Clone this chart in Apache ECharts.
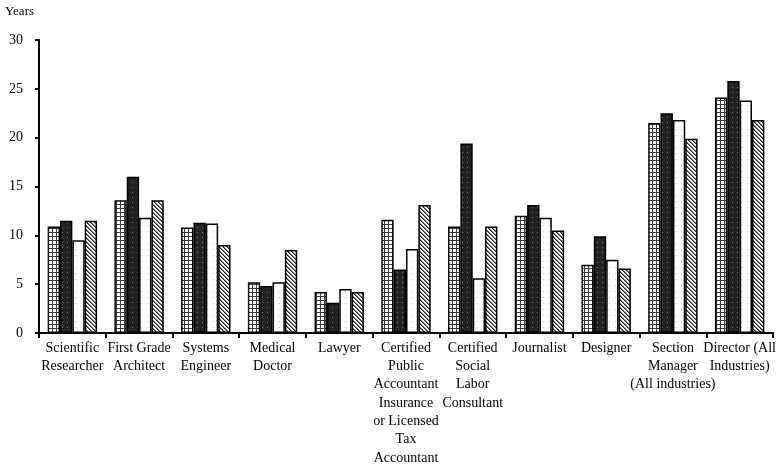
<!DOCTYPE html>
<html><head><meta charset="utf-8">
<script src="https://cdn.jsdelivr.net/npm/echarts@6/dist/echarts.min.js"></script>
<style>html,body{margin:0;padding:0;background:#fff}#c{width:778px;height:465px}</style>
</head><body><div id="c"></div>
<script>
const categories = [
  'Scientific\nResearcher',
  'First Grade\nArchitect',
  'Systems\nEngineer',
  'Medical\nDoctor',
  'Lawyer',
  'Certified\nPublic\nAccountant\nInsurance\nor Licensed\nTax\nAccountant',
  'Certified\nSocial\nLabor\nConsultant',
  'Journalist',
  'Designer',
  'Section\nManager\n(All industries)',
  'Director (All\nIndustries)'
];
const seriesA = [10.9, 13.6, 10.8, 5.2, 4.2, 11.6, 10.9, 12.0, 7.0, 21.5, 24.1];
const seriesB = [11.5, 16.0, 11.3, 4.8, 3.1, 6.5, 19.4, 13.1, 9.9, 22.5, 25.8];
const seriesC = [9.5, 11.8, 11.2, 5.2, 4.5, 8.6, 5.6, 11.8, 7.5, 21.8, 23.8];
const seriesD = [11.5, 13.6, 9.0, 8.5, 4.2, 13.1, 10.9, 10.5, 6.6, 19.9, 21.8];
const yTicks = [0, 5, 10, 15, 20, 25, 30];

function makePattern(size, draw) {
  const c = document.createElement('canvas');
  c.width = size; c.height = size;
  const ctx = c.getContext('2d');
  draw(ctx);
  return c;
}
const pGrid = makePattern(4, ctx => {
  ctx.fillStyle = '#fff'; ctx.fillRect(0, 0, 4, 4);
  ctx.fillStyle = '#3a3a3a'; ctx.fillRect(0, 0, 4, 1); ctx.fillRect(0, 0, 1, 4);
});
const pDark = makePattern(5, ctx => {
  ctx.fillStyle = '#222'; ctx.fillRect(0, 0, 5, 5);
  ctx.fillStyle = '#777'; ctx.fillRect(2, 2, 1, 1);
});
const pWhite = makePattern(6, ctx => {
  ctx.fillStyle = '#fff'; ctx.fillRect(0, 0, 6, 6);
  ctx.fillStyle = '#ccc'; ctx.fillRect(3, 3, 1, 1);
});
const pHatch = makePattern(4, ctx => {
  ctx.fillStyle = '#fff'; ctx.fillRect(0, 0, 4, 4);
  for (let i = 0; i < 4; i++) {
    ctx.fillStyle = '#222'; ctx.fillRect(i, i, 1, 1);
    ctx.fillStyle = '#777'; ctx.fillRect((i + 1) % 4, i, 1, 1);
  }
});

const font = 'Liberation Serif';
function bar(name, data, pat) {
  return {
    name, type: 'bar', data, barGap: '0%', barCategoryGap: '26%',
    itemStyle: { color: { image: pat, repeat: 'repeat' }, borderColor: '#000', borderWidth: 1.5 },
    emphasis: { disabled: true }, animation: false
  };
}
const chart = echarts.init(document.getElementById('c'));
chart.setOption({
  animation: false,
  grid: { left: 39, right: 5, top: 40, bottom: 132, containLabel: false, outerBoundsMode: 'none' },
  graphic: [{ type: 'text', left: 5, top: 5, style: { text: 'Years', font: '13px "Liberation Serif"', fill: '#000' } }],
  xAxis: {
    type: 'category', data: categories,
    axisLine: { lineStyle: { color: '#000', width: 2 } },
    axisTick: { show: true, length: 5, lineStyle: { color: '#000', width: 2 } },
    axisLabel: { interval: 0, color: '#000', fontFamily: font, fontSize: 14, lineHeight: 18.3, margin: 6 }
  },
  yAxis: {
    type: 'value', min: yTicks[0], max: yTicks[yTicks.length - 1], interval: 5,
    axisLine: { show: true, lineStyle: { color: '#000', width: 2 } },
    axisTick: { show: true, length: 4, lineStyle: { color: '#000', width: 2 } },
    splitLine: { show: false },
    axisLabel: { color: '#000', fontFamily: font, fontSize: 14, margin: 16 }
  },
  series: [bar('A', seriesA, pGrid), bar('B', seriesB, pDark), bar('C', seriesC, pWhite), bar('D', seriesD, pHatch)]
});
</script></body></html>
